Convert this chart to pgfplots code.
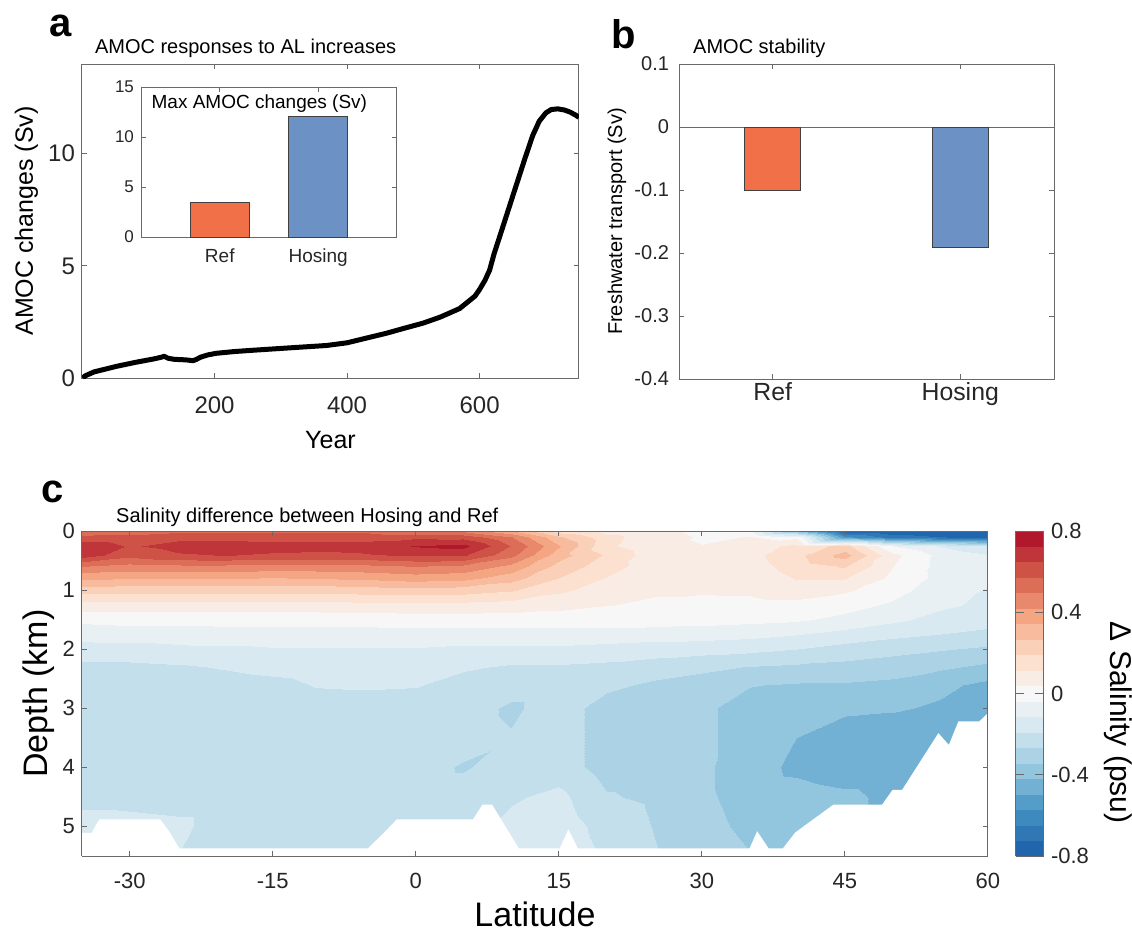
\documentclass[border=0pt]{standalone}
\usepackage{fontspec}
\setmainfont{Liberation Sans}
\usepackage{pgfplots}
\pgfplotsset{compat=1.18}

\definecolor{refc}{RGB}{242,112,72}
\definecolor{hosc}{RGB}{108,145,196}
\definecolor{axgray}{RGB}{105,105,105}

\pgfplotsset{
  matlab/.style={
    scale only axis,
    axis line style={axgray, line width=0.5pt},
    tick style={axgray, line width=0.5pt},
    tick align=inside, major tick length=2.5pt,
    /pgf/number format/assume math mode=true,
    every tick label/.append style={text=black!85},
  },
  colormap={rdbu}{
    rgb255=(33,102,172) rgb255=(47,120,181) rgb255=(60,138,190)
    rgb255=(83,157,200) rgb255=(114,177,211) rgb255=(146,197,222)
    rgb255=(171,210,229) rgb255=(196,223,236) rgb255=(217,233,241)
    rgb255=(232,240,244) rgb255=(247,247,247) rgb255=(249,236,228)
    rgb255=(252,225,209) rgb255=(251,208,185) rgb255=(248,187,158)
    rgb255=(244,165,130) rgb255=(232,137,109) rgb255=(220,110,88)
    rgb255=(207,82,70) rgb255=(192,53,57) rgb255=(178,24,43)
  },
}

\newcommand{\fs}[1]{\fontsize{#1}{#1}\selectfont}

\begin{document}
\begin{tikzpicture}
\useasboundingbox (0,0) rectangle (566pt,-467pt);

% ---- a: AMOC time series
\begin{axis}[matlab,
  at={(41pt,-189pt)}, anchor=south west,
  width=248.5pt, height=157pt,
  xmin=0, xmax=750, ymin=0, ymax=14,
  xtick={200,400,600}, ytick={0,5,10},
  ticklabel style={font=\fs{12}},
  xticklabel style={anchor=base, yshift=-17.5pt},
  xlabel={Year}, ylabel={AMOC changes (Sv)},
  xlabel style={at={(axis description cs:0.5,-0.223)}, anchor=base, font=\fs{12.5}},
  ylabel style={at={(axis description cs:-0.0986,0.5)}, anchor=base, font=\fs{12.5}},
  title={AMOC responses to AL increases},
  title style={at={(axis description cs:0.012,1)}, anchor=base west, yshift=-0.5pt, font=\fs{10}},
]
\addplot[black, line width=2.5pt, line join=round] coordinates {
(1,0) (5,0.1) (18,0.27) (52,0.52) (81,0.7) (110,0.86) (120,0.93) (124,0.97)
(130,0.88) (140,0.83) (150,0.82) (160,0.8) (167,0.77) (172,0.82) (179,0.93)
(190,1.03) (202,1.1) (230,1.18) (254,1.23) (311,1.34) (369,1.45) (400,1.57)
(432,1.8) (460,2.0) (484,2.2) (515,2.45) (541,2.72) (570,3.1) (593,3.65)
(600,3.95) (608,4.35) (615,4.8) (622,5.55) (633,6.55) (651,8.2) (668,9.75)
(680,10.8) (690,11.45) (700,11.82) (708,11.97) (718,12.0) (728,11.95)
(737,11.85) (745,11.72) (750,11.62)};
\end{axis}

% ---- a inset: max AMOC changes
\begin{axis}[matlab,
  at={(70.5pt,-118.5pt)}, anchor=south west,
  width=128pt, height=75pt,
  axis background/.style={fill=white},
  xmin=0.2, xmax=2.8, ymin=0, ymax=15,
  xtick={1,2}, xticklabels={Ref,Hosing}, ytick={0,5,10,15},
  yticklabel style={font=\fs{8.5}},
  xticklabel style={font=\fs{9.5}, anchor=base, yshift=-12.5pt},
]
\addplot[ybar, bar width=0.6, bar shift=0pt, fill=refc, draw=black!75, line width=0.5pt] coordinates {(1,3.5)};
\addplot[ybar, bar width=0.6, bar shift=0pt, fill=hosc, draw=black!75, line width=0.5pt] coordinates {(2,12.05)};
\node[anchor=north west, font=\fs{9.5}, inner sep=0pt] at (rel axis cs:0.04,0.95) {Max AMOC changes (Sv)};
\end{axis}

% ---- b: freshwater transport
\begin{axis}[matlab,
  at={(339.5pt,-189.5pt)}, anchor=south west,
  width=187.5pt, height=157.5pt,
  xmin=0.5, xmax=2.5, ymin=-0.4, ymax=0.1,
  xtick={1,2}, xticklabels={Ref,Hosing},
  ytick={-0.4,-0.3,-0.2,-0.1,0,0.1},
  yticklabel style={font=\fs{10}, xshift=-1.5pt},
  xticklabel style={font=\fs{12.4}, anchor=base, yshift=-10.5pt},
  ylabel={Freshwater transport (Sv)},
  ylabel style={at={(axis description cs:-0.152,0.5)}, anchor=base, font=\fs{10}},
  title={AMOC stability},
  title style={at={(axis description cs:0.019,1)}, anchor=base west, yshift=-0.5pt, font=\fs{10}},
]
\addplot[axgray, line width=0.5pt] coordinates {(0.5,0) (2.5,0)};
\addplot[ybar, bar width=0.3, bar shift=0pt, fill=refc, draw=black!75, line width=0.5pt] coordinates {(1,-0.1)};
\addplot[ybar, bar width=0.3, bar shift=0pt, fill=hosc, draw=black!75, line width=0.5pt] coordinates {(2,-0.192)};
\end{axis}

% ---- c: salinity section
\begin{axis}[matlab,
  at={(41pt,-428pt)}, anchor=south west,
  width=453pt, height=162.5pt,
  view={0}{90}, axis on top,
  xtick pos=both, ytick pos=both,
  xmin=-35, xmax=60, ymin=0, ymax=5.5, y dir=reverse,
  xtick={-30,-15,0,15,30,45,60}, ytick={0,1,2,3,4,5},
  ticklabel style={font=\fs{11}},
  xticklabel style={anchor=base, yshift=-16pt},
  xlabel={Latitude}, ylabel={Depth (km)},
  xlabel style={at={(axis description cs:0.5,-0.218)}, anchor=base, font=\fs{17}},
  ylabel style={at={(axis description cs:-0.0386,0.5)}, anchor=base, font=\fs{17}},
  title={Salinity difference between Hosing and Ref},
  title style={at={(axis description cs:0.03,1)}, anchor=base west, yshift=-1.5pt, font=\fs{10}},
  colormap name=rdbu, colormap access=piecewise constant,
  point meta min=-0.8, point meta max=0.8,
  colorbar,
  colorbar style={
    at={(parent axis.right of north east)}, anchor=north west, xshift=-4pt,
    width=14pt,
    axis line style={axgray, line width=0.5pt},
    tick style={axgray, line width=0.5pt},
    ytick={-0.8,-0.4,0,0.4,0.8},
    yticklabel style={font=\fs{11}, /pgf/number format/assume math mode=true, text=black!85},
    every axis y label/.style={at={(axis description cs:3.36,0.41)}, rotate=-90, anchor=base, font=\fs{15}},
    ylabel={Δ Salinity (psu)},
  },
]
\addplot3[surf, shader=interp, mesh/cols=20] coordinates {
(-35,0,0.50) (-30,0,0.52) (-25,0,0.55) (-20,0,0.55) (-15,0,0.55) (-10,0,0.55) (-5,0,0.55) (0,0,0.50) (5,0,0.48) (10,0,0.35) (15,0,0.15) (20,0,0.08) (25,0,0.06) (30,0,0.02) (35,0,-0.03) (40,0,-0.40) (45,0,-0.79) (50,0,-0.80) (55,0,-0.80) (60,0,-0.80)
(-35,0.1,0.60) (-30,0.1,0.60) (-25,0.1,0.63) (-20,0.1,0.63) (-15,0.1,0.62) (-10,0.1,0.62) (-5,0.1,0.62) (0,0.1,0.63) (5,0.1,0.62) (10,0.1,0.50) (15,0.1,0.28) (20,0.1,0.14) (25,0.1,0.07) (30,0.1,0.03) (35,0.1,0.04) (40,0.1,0.02) (45,0.1,-0.55) (50,0.1,-0.68) (55,0.1,-0.72) (60,0.1,-0.75)
(-35,0.25,0.70) (-30,0.25,0.64) (-25,0.25,0.67) (-20,0.25,0.68) (-15,0.25,0.67) (-10,0.25,0.67) (-5,0.25,0.68) (0,0.25,0.73) (5,0.25,0.75) (10,0.25,0.57) (15,0.25,0.35) (20,0.25,0.13) (25,0.25,0.06) (30,0.25,0.04) (35,0.25,0.07) (40,0.25,0.14) (45,0.25,0.22) (50,0.25,-0.04) (55,0.25,-0.12) (60,0.25,-0.18)
(-35,0.4,0.69) (-30,0.4,0.60) (-25,0.4,0.64) (-20,0.4,0.65) (-15,0.4,0.64) (-10,0.4,0.63) (-5,0.4,0.64) (0,0.4,0.66) (5,0.4,0.66) (10,0.4,0.52) (15,0.4,0.30) (20,0.4,0.18) (25,0.4,0.07) (30,0.4,0.05) (35,0.4,0.09) (40,0.4,0.17) (45,0.4,0.30) (50,0.4,0.06) (55,0.4,-0.06) (60,0.4,-0.11)
(-35,0.6,0.50) (-30,0.6,0.47) (-25,0.6,0.48) (-20,0.6,0.48) (-15,0.6,0.47) (-10,0.6,0.47) (-5,0.6,0.48) (0,0.6,0.50) (5,0.6,0.48) (10,0.6,0.40) (15,0.6,0.24) (20,0.6,0.15) (25,0.6,0.07) (30,0.6,0.06) (35,0.6,0.08) (40,0.6,0.15) (45,0.6,0.20) (50,0.6,0.04) (55,0.6,-0.06) (60,0.6,-0.09)
(-35,0.8,0.36) (-30,0.8,0.35) (-25,0.8,0.35) (-20,0.8,0.35) (-15,0.8,0.34) (-10,0.8,0.35) (-5,0.8,0.36) (0,0.8,0.38) (5,0.8,0.37) (10,0.8,0.30) (15,0.8,0.19) (20,0.8,0.11) (25,0.8,0.06) (30,0.8,0.05) (35,0.8,0.06) (40,0.8,0.12) (45,0.8,0.12) (50,0.8,0.02) (55,0.8,-0.06) (60,0.8,-0.10)
(-35,1.0,0.23) (-30,1.0,0.22) (-25,1.0,0.22) (-20,1.0,0.22) (-15,1.0,0.22) (-10,1.0,0.22) (-5,1.0,0.23) (0,1.0,0.24) (5,1.0,0.23) (10,1.0,0.20) (15,1.0,0.13) (20,1.0,0.08) (25,1.0,0.045) (30,1.0,0.045) (35,1.0,0.05) (40,1.0,0.07) (45,1.0,0.05) (50,1.0,-0.01) (55,1.0,-0.08) (60,1.0,-0.12)
(-35,1.25,0.08) (-30,1.25,0.08) (-25,1.25,0.08) (-20,1.25,0.08) (-15,1.25,0.08) (-10,1.25,0.08) (-5,1.25,0.09) (0,1.25,0.09) (5,1.25,0.09) (10,1.25,0.08) (15,1.25,0.06) (20,1.25,0.04) (25,1.25,0.03) (30,1.25,0.02) (35,1.25,0.02) (40,1.25,0.02) (45,1.25,-0.01) (50,1.25,-0.05) (55,1.25,-0.10) (60,1.25,-0.13)
(-35,1.5,-0.02) (-30,1.5,-0.01) (-25,1.5,-0.01) (-20,1.5,-0.01) (-15,1.5,-0.01) (-10,1.5,-0.01) (-5,1.5,-0.01) (0,1.5,0.00) (5,1.5,0.00) (10,1.5,0.00) (15,1.5,0.00) (20,1.5,0.00) (25,1.5,0.00) (30,1.5,-0.01) (35,1.5,-0.02) (40,1.5,-0.03) (45,1.5,-0.06) (50,1.5,-0.10) (55,1.5,-0.14) (60,1.5,-0.16)
(-35,1.75,-0.09) (-30,1.75,-0.08) (-25,1.75,-0.08) (-20,1.75,-0.07) (-15,1.75,-0.07) (-10,1.75,-0.07) (-5,1.75,-0.07) (0,1.75,-0.07) (5,1.75,-0.07) (10,1.75,-0.07) (15,1.75,-0.07) (20,1.75,-0.07) (25,1.75,-0.08) (30,1.75,-0.08) (35,1.75,-0.09) (40,1.75,-0.11) (45,1.75,-0.14) (50,1.75,-0.17) (55,1.75,-0.19) (60,1.75,-0.21)
(-35,2.0,-0.14) (-30,2.0,-0.14) (-25,2.0,-0.13) (-20,2.0,-0.13) (-15,2.0,-0.12) (-10,2.0,-0.12) (-5,2.0,-0.12) (0,2.0,-0.12) (5,2.0,-0.13) (10,2.0,-0.13) (15,2.0,-0.13) (20,2.0,-0.14) (25,2.0,-0.15) (30,2.0,-0.16) (35,2.0,-0.17) (40,2.0,-0.19) (45,2.0,-0.22) (50,2.0,-0.24) (55,2.0,-0.26) (60,2.0,-0.28)
(-35,2.3,-0.21) (-30,2.3,-0.21) (-25,2.3,-0.20) (-20,2.3,-0.185) (-15,2.3,-0.17) (-10,2.3,-0.16) (-5,2.3,-0.16) (0,2.3,-0.165) (5,2.3,-0.18) (10,2.3,-0.20) (15,2.3,-0.20) (20,2.3,-0.21) (25,2.3,-0.23) (30,2.3,-0.25) (35,2.3,-0.27) (40,2.3,-0.28) (45,2.3,-0.29) (50,2.3,-0.31) (55,2.3,-0.33) (60,2.3,-0.36)
(-35,2.6,-0.23) (-30,2.6,-0.23) (-25,2.6,-0.23) (-20,2.6,-0.22) (-15,2.6,-0.21) (-10,2.6,-0.185) (-5,2.6,-0.18) (0,2.6,-0.185) (5,2.6,-0.22) (10,2.6,-0.23) (15,2.6,-0.23) (20,2.6,-0.25) (25,2.6,-0.28) (30,2.6,-0.30) (35,2.6,-0.34) (40,2.6,-0.35) (45,2.6,-0.35) (50,2.6,-0.36) (55,2.6,-0.40) (60,2.6,-0.44)
(-35,3.0,-0.23) (-30,3.0,-0.23) (-25,3.0,-0.23) (-20,3.0,-0.23) (-15,3.0,-0.23) (-10,3.0,-0.23) (-5,3.0,-0.23) (0,3.0,-0.23) (5,3.0,-0.23) (10,3.0,-0.28) (15,3.0,-0.23) (20,3.0,-0.30) (25,3.0,-0.30) (30,3.0,-0.33) (35,3.0,-0.37) (40,3.0,-0.38) (45,3.0,-0.40) (50,3.0,-0.41) (55,3.0,-0.43) (60,3.0,-0.47)
(-35,3.5,-0.23) (-30,3.5,-0.23) (-25,3.5,-0.23) (-20,3.5,-0.23) (-15,3.5,-0.23) (-10,3.5,-0.23) (-5,3.5,-0.23) (0,3.5,-0.23) (5,3.5,-0.23) (10,3.5,-0.26) (15,3.5,-0.23) (20,3.5,-0.30) (25,3.5,-0.30) (30,3.5,-0.33) (35,3.5,-0.37) (40,3.5,-0.42) (45,3.5,-0.47) (50,3.5,-0.47) (55,3.5,-0.47) (60,3.5,-0.47)
(-35,4.0,-0.23) (-30,4.0,-0.23) (-25,4.0,-0.23) (-20,4.0,-0.23) (-15,4.0,-0.23) (-10,4.0,-0.23) (-5,4.0,-0.23) (0,4.0,-0.23) (5,4.0,-0.275) (10,4.0,-0.23) (15,4.0,-0.23) (20,4.0,-0.30) (25,4.0,-0.30) (30,4.0,-0.33) (35,4.0,-0.38) (40,4.0,-0.44) (45,4.0,-0.47) (50,4.0,-0.47) (55,4.0,-0.47) (60,4.0,-0.47)
(-35,4.5,-0.22) (-30,4.5,-0.22) (-25,4.5,-0.23) (-20,4.5,-0.23) (-15,4.5,-0.23) (-10,4.5,-0.23) (-5,4.5,-0.23) (0,4.5,-0.23) (5,4.5,-0.23) (10,4.5,-0.20) (15,4.5,-0.17) (20,4.5,-0.26) (25,4.5,-0.28) (30,4.5,-0.33) (35,4.5,-0.37) (40,4.5,-0.38) (45,4.5,-0.40) (50,4.5,-0.44) (55,4.5,-0.44) (60,4.5,-0.44)
(-35,5.0,-0.15) (-30,5.0,-0.16) (-25,5.0,-0.17) (-20,5.0,-0.23) (-15,5.0,-0.23) (-10,5.0,-0.23) (-5,5.0,-0.23) (0,5.0,-0.23) (5,5.0,-0.22) (10,5.0,-0.17) (15,5.0,-0.15) (20,5.0,-0.22) (25,5.0,-0.27) (30,5.0,-0.32) (35,5.0,-0.36) (40,5.0,-0.38) (45,5.0,-0.40) (50,5.0,-0.40) (55,5.0,-0.40) (60,5.0,-0.40)
(-35,5.5,-0.15) (-30,5.5,-0.16) (-25,5.5,-0.19) (-20,5.5,-0.23) (-15,5.5,-0.23) (-10,5.5,-0.23) (-5,5.5,-0.23) (0,5.5,-0.23) (5,5.5,-0.22) (10,5.5,-0.16) (15,5.5,-0.14) (20,5.5,-0.20) (25,5.5,-0.26) (30,5.5,-0.30) (35,5.5,-0.34) (40,5.5,-0.38) (45,5.5,-0.38) (50,5.5,-0.38) (55,5.5,-0.38) (60,5.5,-0.38)
};
% sea floor
\addplot[fill=white, draw=none] coordinates {
(-35,5.11) (-34,5.11) (-33.2,4.88) (-26.8,4.88) (-25.8,5.1) (-24.8,5.37)
(-5,5.37) (-3,5.05) (-2,4.88) (6,4.88) (7,4.63) (8,4.63) (10.8,5.37)
(15.1,5.37) (16,5.05) (17,5.37) (35,5.37) (35.8,5.08) (37,5.37) (38.5,5.37)
(39.8,5.1) (43.8,4.63) (48.9,4.63) (50,4.38) (51,4.38) (54.8,3.42)
(55.9,3.62) (56.9,3.22) (59.1,3.22) (60,3.08) (60,5.5) (-35,5.5)} -- cycle;
\end{axis}

\node[anchor=base west, font=\bfseries\fs{20}] at (21pt,-18pt) {a};
\node[anchor=base west, font=\bfseries\fs{20}] at (302pt,-24pt) {b};
\node[anchor=base west, font=\bfseries\fs{20}] at (17pt,-251pt) {c};
\end{tikzpicture}
\end{document}
